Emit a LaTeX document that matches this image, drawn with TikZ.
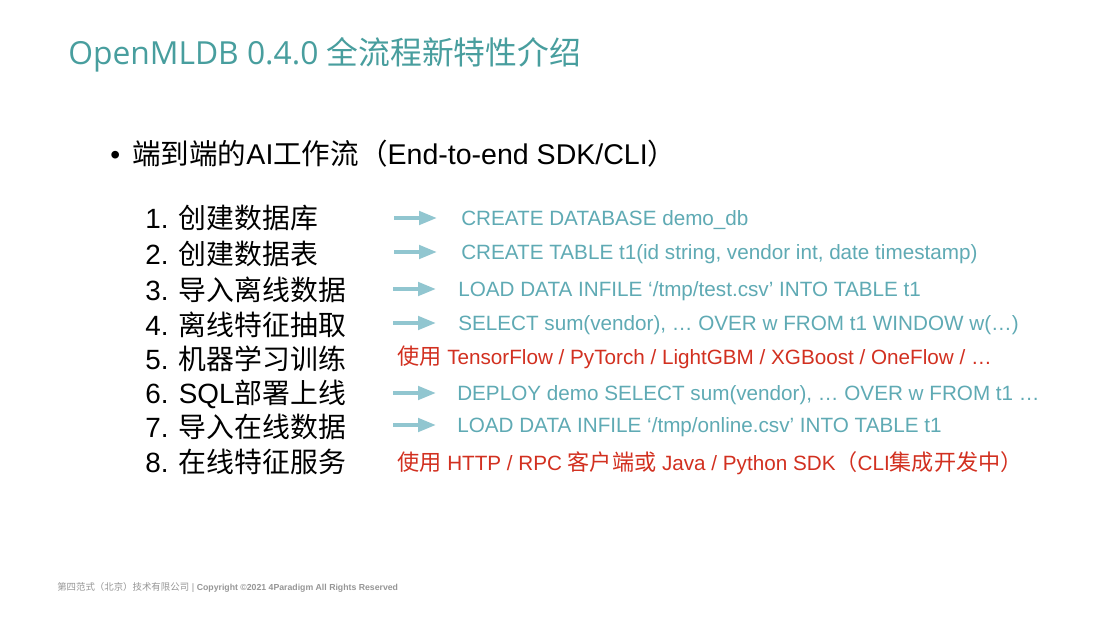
\documentclass[tikz,border=0pt]{standalone}
\usepackage{fontspec}
\setmainfont{Liberation Sans}
\newfontfamily\titlefont{Open Sans}
\newfontfamily\zh{Noto Sans CJK SC}
\newfontfamily\zhwide[Scale=1.07]{Noto Sans CJK SC}
\usetikzlibrary{arrows.meta}
\definecolor{titleteal}{RGB}{72,158,158}
\definecolor{cmdteal}{RGB}{95,170,180}
\definecolor{arrowblue}{RGB}{145,198,208}
\definecolor{usagered}{RGB}{210,48,32}
\definecolor{footgray}{RGB}{150,150,150}

\begin{document}
\begin{tikzpicture}[x=0.025cm, y=-0.025cm,
    txt/.style={anchor=base west, inner sep=0pt},
    steptxt/.style={txt, font=\fontsize{19.8}{24}\selectfont},
    cmdtxt/.style={txt, text=cmdteal, font=\fontsize{14.7}{17}\selectfont},
    usetxt/.style={txt, text=usagered, font=\fontsize{14.7}{17}\selectfont},
    flow/.style={line width=0.1cm, arrowblue, -{Triangle[length=0.45cm, width=0.33cm]}}]
    \useasboundingbox[fill=white] (0,0) rectangle (1098,618);

    \node[txt, text=titleteal, font=\titlefont\fontsize{22.6}{26}\selectfont] (title) at (68,64)
        {OpenMLDB 0.4.0 {\zh 全流程新特性介绍}};

    \node[txt, font=\fontsize{20}{24}\selectfont] (dot) at (110,164) {•};
    \node[txt, font=\fontsize{20.3}{24}\selectfont] (head) at (132,164)
        {{\zh 端到端的}AI{\zh 工作流（}End-to-end SDK/CLI{\zh ）}};

    % steps
    \node[steptxt] (s1) at (145,228) {1. {\zh 创建数据库}};
    \node[steptxt] (s2) at (145,264) {2. {\zh 创建数据表}};
    \node[steptxt] (s3) at (145,300) {3. {\zh 导入离线数据}};
    \node[steptxt] (s4) at (145,335) {4. {\zh 离线特征抽取}};
    \node[steptxt] (s5) at (145,369) {5. {\zh 机器学习训练}};
    \node[steptxt] (s6) at (145,403) {6. SQL{\zh 部署上线}};
    \node[steptxt] (s7) at (145,437) {7. {\zh 导入在线数据}};
    \node[steptxt] (s8) at (145,472) {8. {\zh 在线特征服务}};

    % commands
    \node[cmdtxt] (c1) at (461,225) {CREATE DATABASE demo\_db};
    \node[cmdtxt] (c2) at (461,259) {CREATE TABLE t1(id string, vendor int, date timestamp)};
    \node[cmdtxt] (c3) at (458,296) {LOAD DATA INFILE ‘/tmp/test.csv’ INTO TABLE t1};
    \node[cmdtxt] (c4) at (458,330) {SELECT sum(vendor), \dots{} OVER w FROM t1 WINDOW w(\dots)};
    \node[usetxt] (c5) at (397,364) {{\zhwide 使用} TensorFlow / PyTorch / LightGBM / XGBoost / OneFlow / \dots};
    \node[cmdtxt] (c6) at (457,400) {DEPLOY demo SELECT sum(vendor), \dots{} OVER w FROM t1 \dots};
    \node[cmdtxt] (c7) at (457,432) {LOAD DATA INFILE ‘/tmp/online.csv’ INTO TABLE t1};
    \node[usetxt] (c8) at (397,470) {{\zhwide 使用} HTTP / RPC {\zhwide 客户端或} Java / Python SDK{\zhwide （}CLI{\zhwide 集成开发中）}};

    \coordinate (a1) at (394,218);
    \coordinate (a2) at (394,252);
    \coordinate (a3) at (393,289);
    \coordinate (a4) at (393,323);
    \coordinate (a6) at (393,393);
    \coordinate (a7) at (393,425);
    \draw[flow] (a1) -- ++(43,0);
    \draw[flow] (a2) -- ++(43,0);
    \draw[flow] (a3) -- ++(43,0);
    \draw[flow] (a4) -- ++(43,0);
    \draw[flow] (a6) -- ++(43,0);
    \draw[flow] (a7) -- ++(43,0);

    \node[txt, text=footgray, font=\fontsize{6.7}{8}\selectfont] (foot) at (57,590)
        {{\zh 第四范式（北京）技术有限公司} | \textbf{\fontsize{6.2}{7}\selectfont Copyright ©2021 4Paradigm All Rights Reserved}};
\end{tikzpicture}
\end{document}
